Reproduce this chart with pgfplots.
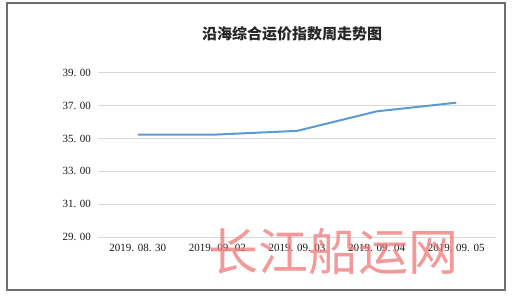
\documentclass[border=0pt]{standalone}
\usepackage{pgfplots}
\pgfplotsset{compat=1.18}
\usepackage{fontspec}
\setmainfont{Liberation Serif}
\newfontfamily\cjk{Noto Sans CJK SC}
\definecolor{lineblue}{RGB}{91,155,213}
\definecolor{gridgray}{RGB}{217,217,217}
\definecolor{framegray}{RGB}{110,110,110}
\definecolor{wm}{RGB}{240,120,120}
\begin{document}
\begin{tikzpicture}[x=1bp,y=1bp]
\path[use as bounding box,fill=white] (0,0) rectangle (530,298);
\draw[framegray, line width=1.5bp] (7,8) rectangle (505,295);
\node[font=\cjk\bfseries\fontsize{15bp}{18bp}\selectfont, text=black!85] at (292,264) {沿海综合运价指数周走势图};
\begin{axis}[
  at={(98bp,61bp)}, anchor=south west,
  scale only axis, width=398bp, height=164bp,
  xmin=-0.5, xmax=4.5, ymin=29, ymax=39,
  xtick={0,1,2,3,4},
  xticklabels={2019. 08. 30,2019. 09. 02,2019. 09. 03,2019. 09. 04,2019. 09. 05},
  ytick={29,31,33,35,37,39},
  yticklabels={29. 00,31. 00,33. 00,35. 00,37. 00,39. 00},
  axis line style={draw=none},
  tick style={draw=none},
  ymajorgrids,
  major grid style={gridgray, line width=1bp},
  ticklabel style={font=\fontsize{11bp}{13bp}\selectfont, text=black!90},
  yticklabel style={xshift=-3.5bp},
  xticklabel style={yshift=-4bp},
  clip=false,
]
\addplot[lineblue, line width=2bp, mark=none] coordinates {
  (0,35.25) (1,35.25) (2,35.47) (3,36.66) (4,37.19)
};
\end{axis}
\node[font=\cjk\fontsize{50bp}{55bp}\selectfont, text=wm, opacity=0.75] at (333,46) {长江船运网};
\end{tikzpicture}
\end{document}
